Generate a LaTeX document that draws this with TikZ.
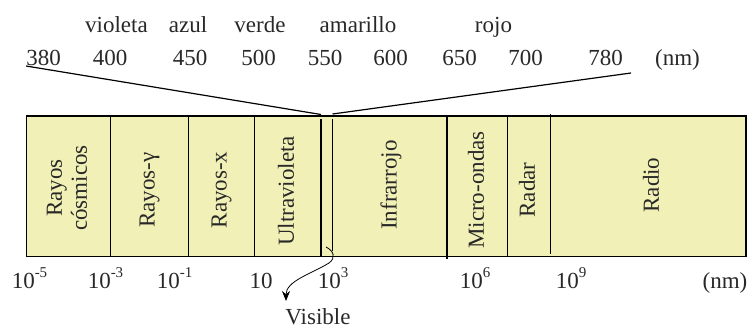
\documentclass[tikz,border=0pt]{standalone}
\usepackage{fontspec}
\setmainfont{Liberation Serif}
\usetikzlibrary{arrows.meta}
\definecolor{bandyellow}{RGB}{241,240,182}
\definecolor{inkgray}{RGB}{40,40,40}
\newcommand{\tenpow}[1]{10\raisebox{0.45em}{\fontsize{15}{15}\selectfont #1}}
\tikzset{%
  band/.style    = {draw, line width=1.5pt, fill=bandyellow}, % spectrum strip
  divider/.style = {line width=1.5pt},
  funnel/.style  = {line width=1.2pt},
  region/.style  = {rotate=90, align=center, text=inkgray, inner sep=0pt}, % names in the strip
  tag/.style     = {anchor=base, text=inkgray, inner sep=0pt}
}

\begin{document}
\begin{tikzpicture}[x=1pt, y=-1pt, font=\fontsize{23}{25}\selectfont, >={Stealth[length=10pt,width=8pt]}]
\useasboundingbox (0,0) rectangle (751,329);
\draw[band] (26.5,116) rectangle (746,256.5);
\draw[divider] (110.5,116) -- (110.5,256.5);
\draw[divider] (188.5,116) -- (188.5,256.5);
\draw[divider] (254.5,116) -- (254.5,256.5);
\draw[divider] (321,119) -- (321,256.5);
\draw[divider] (332.5,119) -- (332.5,251);
\draw[divider] (447,116) -- (447,259);
\draw[divider] (507.5,116) -- (507.5,256.5);
\draw[divider] (550.5,114) -- (550.5,254);
% colours
\draw
	node at(116.5,33)[tag, name=violeta]{violeta}
	node at(188,33)[tag, name=azul]{azul}
	node at(260,33)[tag, name=verde]{verde}
	node at(358,33)[tag, name=amarillo]{amarillo}
	node at(493.5,33)[tag, name=rojo]{rojo};
% wavelengths of the visible band
\draw
	node at(43.5,66)[tag, name=nm380]{380}
	node at(110,66)[tag, name=nm400]{400}
	node at(190,66)[tag, name=nm450]{450}
	node at(258.5,66)[tag, name=nm500]{500}
	node at(325,66)[tag, name=nm550]{550}
	node at(390.5,66)[tag, name=nm600]{600}
	node at(459.5,66)[tag, name=nm650]{650}
	node at(525.5,66)[tag, name=nm700]{700}
	node at(605.5,66)[tag, name=nm780]{780}
	node at(677.5,66)[tag, name=unitTop]{(nm)};
\coordinate (visL) at (321,114.5);
\coordinate (visR) at (332.5,114);
\coordinate (endR) at (631,73);
\draw[funnel] (nm380.base west) -- (visL);
\draw[funnel] (visR) -- (endR);
% regions
\draw
	node at(67,188)[region, name=cosmic]{Rayos\\cósmicos}
	node at(149.5,190)[region, name=gamma]{Rayos-γ}
	node at(221.5,190)[region, name=xray]{Rayos-x}
	node at(286,191)[region, name=uv]{Ultravioleta}
	node at(391,185)[region, name=ir]{Infrarrojo}
	node at(476,190)[region, name=micro]{Micro-ondas}
	node at(527,190)[region, name=radar]{Radar}
	node at(651,185)[region, name=radio]{Radio};
% scale
\draw
	node at(29.5,288)[tag, name=p5]{\tenpow{-5}}
	node at(105.5,288)[tag, name=p3]{\tenpow{-3}}
	node at(174.5,288)[tag, name=p1]{\tenpow{-1}}
	node at(261,288)[tag, name=p10]{10}
	node at(333,288)[tag, name=q3]{\tenpow{3}}
	node at(475,288)[tag, name=q6]{\tenpow{6}}
	node at(571,288)[tag, name=q9]{\tenpow{9}}
	node at(725,288)[tag, name=unitBot]{(nm)};
\node[tag] (visible) at (318,324.5) {Visible};
\coordinate (vistip) at (286,301);
\draw[thick, ->] (326,247) .. controls (334,251) and (336,258) .. (329,263)
	.. controls (311,274) and (286,281) .. (vistip);
\end{tikzpicture}
\end{document}
